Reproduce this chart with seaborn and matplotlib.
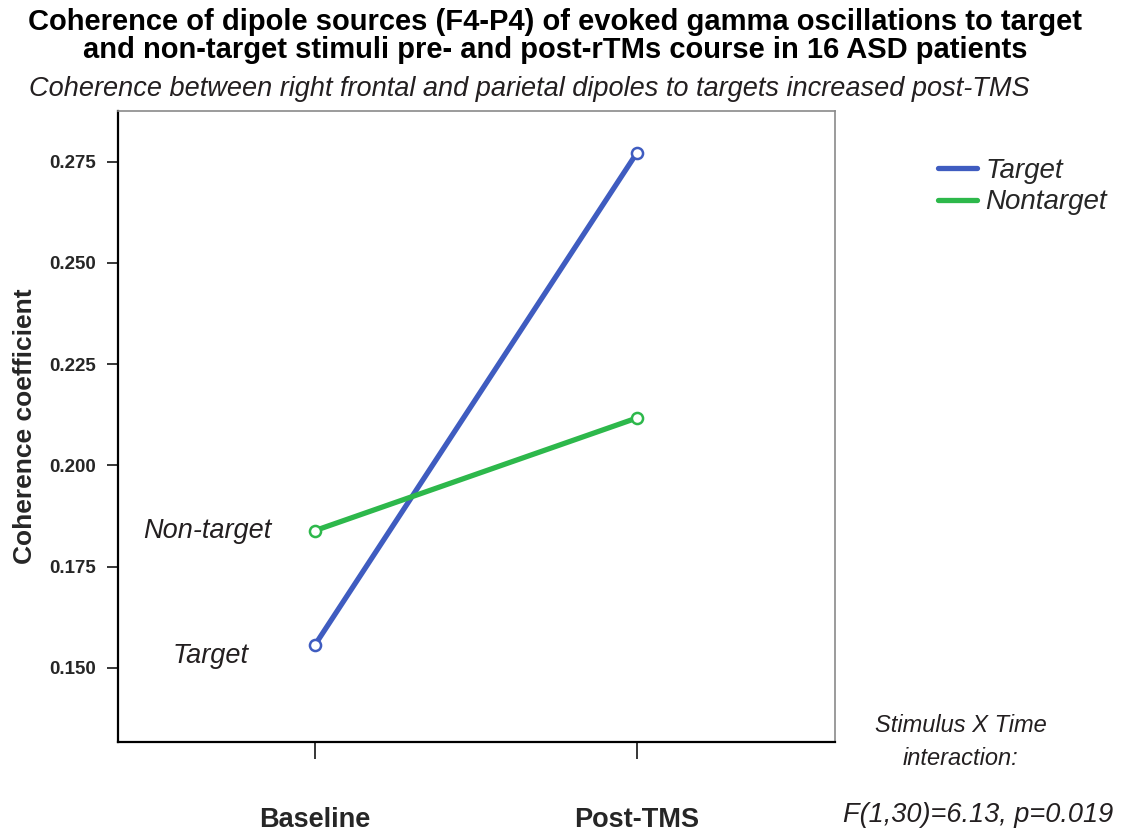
import pandas as pd
import seaborn as sns
import matplotlib.pyplot as plt
from matplotlib.lines import Line2D

# data
times = ['Baseline', 'Post-TMS']
target_coh = [0.1557, 0.2772]
nontarget_coh = [0.1839, 0.2117]
stim_labels = ['Target', 'Nontarget']
y_ticks = [0.150, 0.175, 0.200, 0.225, 0.250, 0.275]

colors = {'Target': '#3F5CC0', 'Nontarget': '#2DB84B'}
text_col = '#231F20'

df = pd.DataFrame({
    'Time': times + times,
    'Coherence': target_coh + nontarget_coh,
    'Stimulus': ['Target'] * len(times) + ['Nontarget'] * len(times),
})

sns.set_style('white')
plt.rcParams['font.family'] = ['Liberation Sans', 'DejaVu Sans']

fig = plt.figure(figsize=(11.22, 8.35), dpi=100)
ax = fig.add_axes([0.1052, 0.1114, 0.639, 0.7557])

sns.lineplot(data=df, x='Time', y='Coherence', hue='Stimulus', palette=colors,
             hue_order=stim_labels, marker='o', markersize=8, markerfacecolor='white',
             markeredgewidth=1.8, linewidth=3.8, legend=False, ax=ax)
# seaborn paints marker edges white, give them the line colour back
for ln in ax.lines:
    ln.set_markeredgecolor(ln.get_color())

ax.set_xlim(-0.612, 1.615)
ax.set_ylim(0.1317, 0.2875)
ax.set_yticks(y_ticks)
ax.set_yticklabels([f'{v:.3f}' for v in y_ticks], fontsize=13.5, fontweight='bold')
ax.set_xticks(range(len(times)))
ax.set_xticklabels(times, fontsize=19.5, fontweight='bold')
ax.tick_params(axis='y', length=8, width=1.3, direction='out', left=True, pad=8)
ax.tick_params(axis='x', length=12, width=1.3, direction='out', bottom=True, pad=35)
ax.set_xlabel('')
ax.set_ylabel('Coherence coefficient', fontsize=19, fontweight='bold', labelpad=9)

for side in ['left', 'bottom']:
    ax.spines[side].set_color('black')
    ax.spines[side].set_linewidth(1.6)
for side in ['top', 'right']:
    ax.spines[side].set_color('#8a8a8a')
    ax.spines[side].set_linewidth(1.2)

# labels beside the baseline points
ax.text(-0.134, 0.1838, 'Non-target', ha='right', va='center', fontsize=19.5,
        style='italic', color=text_col)
ax.text(-0.208, 0.153, 'Target', ha='right', va='center', fontsize=19.5,
        style='italic', color=text_col)

# legend outside the axes
handles = [Line2D([0], [0], color=colors[s], lw=3.8) for s in stim_labels]
fig.legend(handles, stim_labels, loc='upper left', bbox_to_anchor=(0.836, 0.811),
           frameon=False, borderpad=0, borderaxespad=0, handlelength=1.4,
           handletextpad=0.3, labelspacing=0.2, prop={'size': 20, 'style': 'italic'})

fig.text(0.495, 0.99, 'Coherence of dipole sources (F4-P4) of evoked gamma oscillations to target\n'
         'and non-target stimuli pre- and post-rTMs course in 16 ASD patients',
         ha='center', va='top', fontsize=21, fontweight='bold', color='black', linespacing=1.0)
fig.text(0.472, 0.894, 'Coherence between right frontal and parietal dipoles to targets increased post-TMS',
         ha='center', va='center', fontsize=19.5, style='italic', color=text_col)
fig.text(0.856, 0.1114, 'Stimulus X Time\ninteraction:', ha='center', va='center',
         fontsize=17, style='italic', color=text_col, linespacing=1.6)
fig.text(0.872, 0.024, 'F(1,30)=6.13, p=0.019', ha='center', va='center',
         fontsize=19.5, style='italic', color=text_col)

fig.savefig('out.png', dpi=100)
